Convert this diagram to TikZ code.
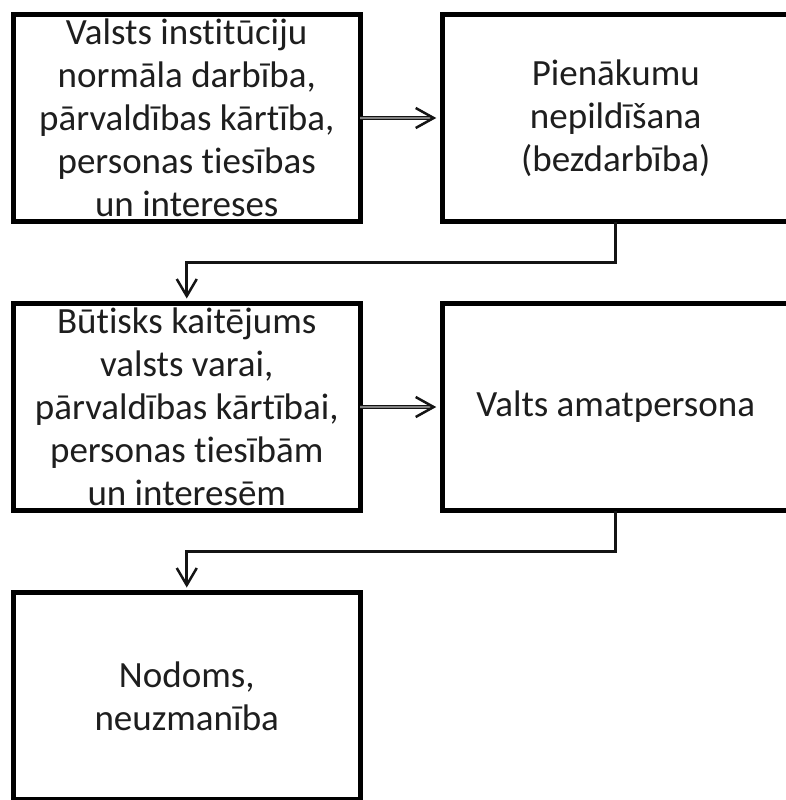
\documentclass[tikz,border=0pt]{standalone}
\usepackage{fontspec}
\setmainfont{Carlito}[Ligatures=NoCommon]
\usepackage{tikz}
\usetikzlibrary{arrows.meta, positioning}
\definecolor{framegray}{RGB}{20,20,20}
\definecolor{shaftgray}{RGB}{130,130,130}
\definecolor{textgray}{RGB}{30,30,30}
\tikzset{
  stepbox/.style={
    rectangle, draw=black, line width=5pt, fill=white, align=center,
    outer sep=0pt, minimum width=347pt, minimum height=207pt,
    text=textgray, font=\fontsize{37}{43}\selectfont
  },
  flowarrow/.style={-{Straight Barb[length=18pt, width=20pt, line width=2.5pt]},
    draw=framegray, line width=1.2pt, double=shaftgray, double distance=2.2pt,
    shorten >=6pt},
  elbowarrow/.style={-{Straight Barb[length=17pt, width=20pt, line width=2.5pt]},
    draw=framegray, line width=3pt, shorten >=5pt}
}

\begin{document}
\begin{tikzpicture}[node distance=82pt and 82pt]
  \useasboundingbox (0,0) rectangle (785pt,-800pt);
  \node[stepbox] (inst) at (186.75pt,-118pt)
        {Valsts institūciju\\normāla darbība,\\pārvaldības kārtība,\\personas tiesības\\un intereses};
  \node[stepbox, right=of inst] (duty) {Pienākumu\\nepildīšana\\(bezdarbība)};
  \node[stepbox, below=of inst] (harm)
        {Būtisks kaitējums\\valsts varai,\\pārvaldības kārtībai,\\personas tiesībām\\un interesēm};
  \node[stepbox, right=of harm] (official) {Valts amatpersona};
  \node[stepbox, below=of harm] (intent) {Nodoms,\\neuzmanība};

  \draw[flowarrow] (inst)--(duty);
  \draw[flowarrow] (harm)--(official);
  \draw[elbowarrow] (duty.south) -- ++(0,-41pt) -| (harm.north);
  \draw[elbowarrow] (official.south) -- ++(0,-41pt) -| (intent.north);
\end{tikzpicture}
\end{document}
